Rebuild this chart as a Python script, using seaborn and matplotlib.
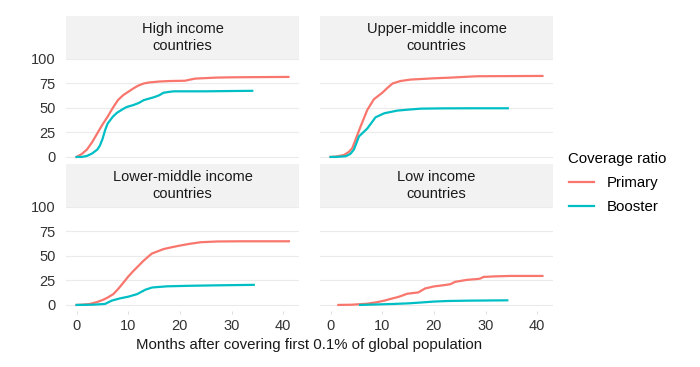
import pandas as pd
import matplotlib
matplotlib.use("Agg")
import matplotlib.pyplot as plt
import seaborn as sns
from matplotlib.patches import Rectangle
from matplotlib.lines import Line2D

# panels (income groups)
groups = ["High income\ncountries", "Upper-middle income\ncountries",
          "Lower-middle income\ncountries", "Low income\ncountries"]

# High income
hi_p_m = [0, 1, 2, 3, 4, 5, 6, 7, 8, 9, 10, 11, 12, 13, 14, 16, 18, 20, 21, 22, 23, 25, 27, 30, 35, 41]
hi_p_v = [0, 3, 7.5, 15, 24, 33, 41, 50, 58, 63, 66.5, 70, 73, 75, 76, 77, 77.5, 77.7, 77.8, 79, 80, 80.5, 81, 81.3, 81.5, 81.7]
hi_b_m = [0, 1, 2, 3, 4, 4.5, 5, 5.5, 6, 7, 7.8, 9, 9.7, 11, 12, 13, 15, 16, 16.8, 18, 18.8, 20, 25, 30, 34]
hi_b_v = [0, 0, 1, 3.5, 7.5, 11.5, 18, 27, 34, 41, 45, 49, 51, 53, 55, 58, 61, 63, 65.5, 66.5, 67, 67, 67, 67.3, 67.5]

# Upper-middle income
um_p_m = [0, 1, 2.6, 3.5, 4.2, 5, 5.8, 7.1, 8.4, 10, 11, 12, 13.5, 15.5, 18, 20, 23.3, 25, 28.5, 33, 41]
um_p_v = [0, 0.3, 2, 5, 9, 20, 31, 48, 59, 65.5, 70.5, 75, 77.5, 79, 79.7, 80.3, 81, 81.5, 82.4, 82.5, 82.7]
um_b_m = [0, 1, 2.9, 3.8, 4.5, 5.5, 7.1, 8.7, 10.4, 12.9, 15, 17.5, 22, 28, 34.3]
um_b_v = [0, 0, 0.7, 3, 7.4, 21, 29, 40.5, 44.6, 47.3, 48.3, 49.3, 49.6, 49.7, 49.7]

# Lower-middle income
lm_p_m = [0, 1, 2.6, 4, 5.2, 6, 7.1, 8, 9.1, 10, 11, 12, 12.9, 14, 14.6, 16.8, 18.5, 20, 22, 24, 27.2, 32, 41.1]
lm_p_v = [0, 0.2, 1, 3, 5.4, 7.5, 11, 16, 23, 29, 34.7, 40, 44.8, 50, 52.5, 57, 59, 60.6, 62.5, 64, 64.8, 65, 65]
lm_b_m = [0, 3, 5.5, 6.8, 8.4, 10, 11.7, 13.3, 14.6, 17.5, 21.4, 27, 34.3]
lm_b_v = [0, 0.2, 1, 4.4, 6.7, 8.4, 11, 15.5, 17.8, 19, 19.5, 20, 20.5]

# Low income
lo_p_m = [1.5, 4, 7, 8.9, 10.5, 11.5, 13, 13.8, 14.8, 17, 17.3, 18.3, 20, 22, 23.2, 24.1, 26.4, 28.5, 29, 29.6, 32, 34.8, 41]
lo_p_v = [0, 0.2, 1.2, 2.7, 4.5, 6, 8, 9.4, 11.4, 12.8, 13.8, 16.8, 18.9, 20.2, 21.2, 23.6, 25.6, 26.5, 27, 28.6, 29.2, 29.6, 29.6]
lo_b_m = [5.7, 9, 12.2, 15, 17.3, 19.9, 22.5, 27, 34.2]
lo_b_v = [0, 0.5, 1, 1.6, 2.4, 3.4, 4, 4.4, 4.7]

series = [(hi_p_m, hi_p_v, hi_b_m, hi_b_v), (um_p_m, um_p_v, um_b_m, um_b_v),
          (lm_p_m, lm_p_v, lm_b_m, lm_b_v), (lo_p_m, lo_p_v, lo_b_m, lo_b_v)]

rows = []
for g, (pm, pv, bm, bv) in zip(groups, series):
    rows += [(g, "Primary", m, v) for m, v in zip(pm, pv)]
    rows += [(g, "Booster", m, v) for m, v in zip(bm, bv)]
df = pd.DataFrame(rows, columns=["group", "ratio", "month", "value"])

palette = {"Primary": "#F8766D", "Booster": "#00BFC4"}
txt = "#333333"
plt.rcParams["font.family"] = ["Liberation Sans", "DejaVu Sans"]
plt.rcParams["font.size"] = 10

fig = plt.figure(figsize=[7, 3.67], dpi=100)
W, H = 700, 367
# panel boxes in pixels: left, top, right, bottom
boxes = [(66, 59, 299, 163), (320, 59, 553, 163), (66, 207, 299, 311), (320, 207, 553, 311)]
strip_h = 43

for i, (g, (x0, y0, x1, y1)) in enumerate(zip(groups, boxes)):
    ax = fig.add_axes([x0 / W, 1 - y1 / H, (x1 - x0) / W, (y1 - y0) / H])
    sns.lineplot(data=df[df.group == g], x="month", y="value", hue="ratio",
                 palette=palette, hue_order=["Primary", "Booster"],
                 linewidth=1.6, legend=False, ax=ax, estimator=None, sort=True)
    ax.set_xlim(-2.05, 43.05)
    ax.set_ylim(-6.2, 100)
    ax.set_yticks([0, 25, 50, 75, 100])
    ax.set_xticks([0, 10, 20, 30, 40])
    ax.grid(axis="y", color="#EBEBEB", linewidth=0.8)
    ax.grid(axis="x", visible=False)
    ax.set_axisbelow(True)
    for s in ax.spines.values():
        s.set_visible(False)
    ax.set_xlabel("")
    ax.set_ylabel("")
    ax.tick_params(axis="y", length=0, pad=7.5, labelcolor=txt, labelsize=10.5)
    if i < 2:
        ax.tick_params(axis="x", length=0, labelbottom=False)
    else:
        ax.tick_params(axis="x", length=2.5, width=0.7, color="#DDDDDD",
                       pad=3.5, labelcolor=txt, labelsize=10.5)
    if i % 2 == 1:
        ax.tick_params(axis="y", labelleft=False)
    # strip
    sax = fig.add_axes([x0 / W, 1 - y0 / H, (x1 - x0) / W, strip_h / H])
    sax.add_patch(Rectangle((0, 0), 1, 1, color="#F2F2F2", transform=sax.transAxes))
    sax.text(0.5, 0.5, g, ha="center", va="center", fontsize=10.5,
             color="#1A1A1A", linespacing=1.2)
    sax.axis("off")

fig.text(309.5 / W, 1 - 345 / H, "Months after covering first 0.1% of global population",
         ha="center", va="center", fontsize=10.8, color="#1A1A1A")

handles = [Line2D([], [], color=palette[k], lw=1.6) for k in ["Primary", "Booster"]]
leg = fig.legend(handles, ["Primary", "Booster"], title="Coverage ratio",
                 loc="upper left", bbox_to_anchor=(555 / W, 1 - 139 / H),
                 frameon=False, fontsize=10.8, title_fontsize=10.8,
                 handlelength=1.7, handletextpad=0.85, labelspacing=0.65)
leg._legend_box.align = "left"

plt.savefig("out.png", dpi=100)
